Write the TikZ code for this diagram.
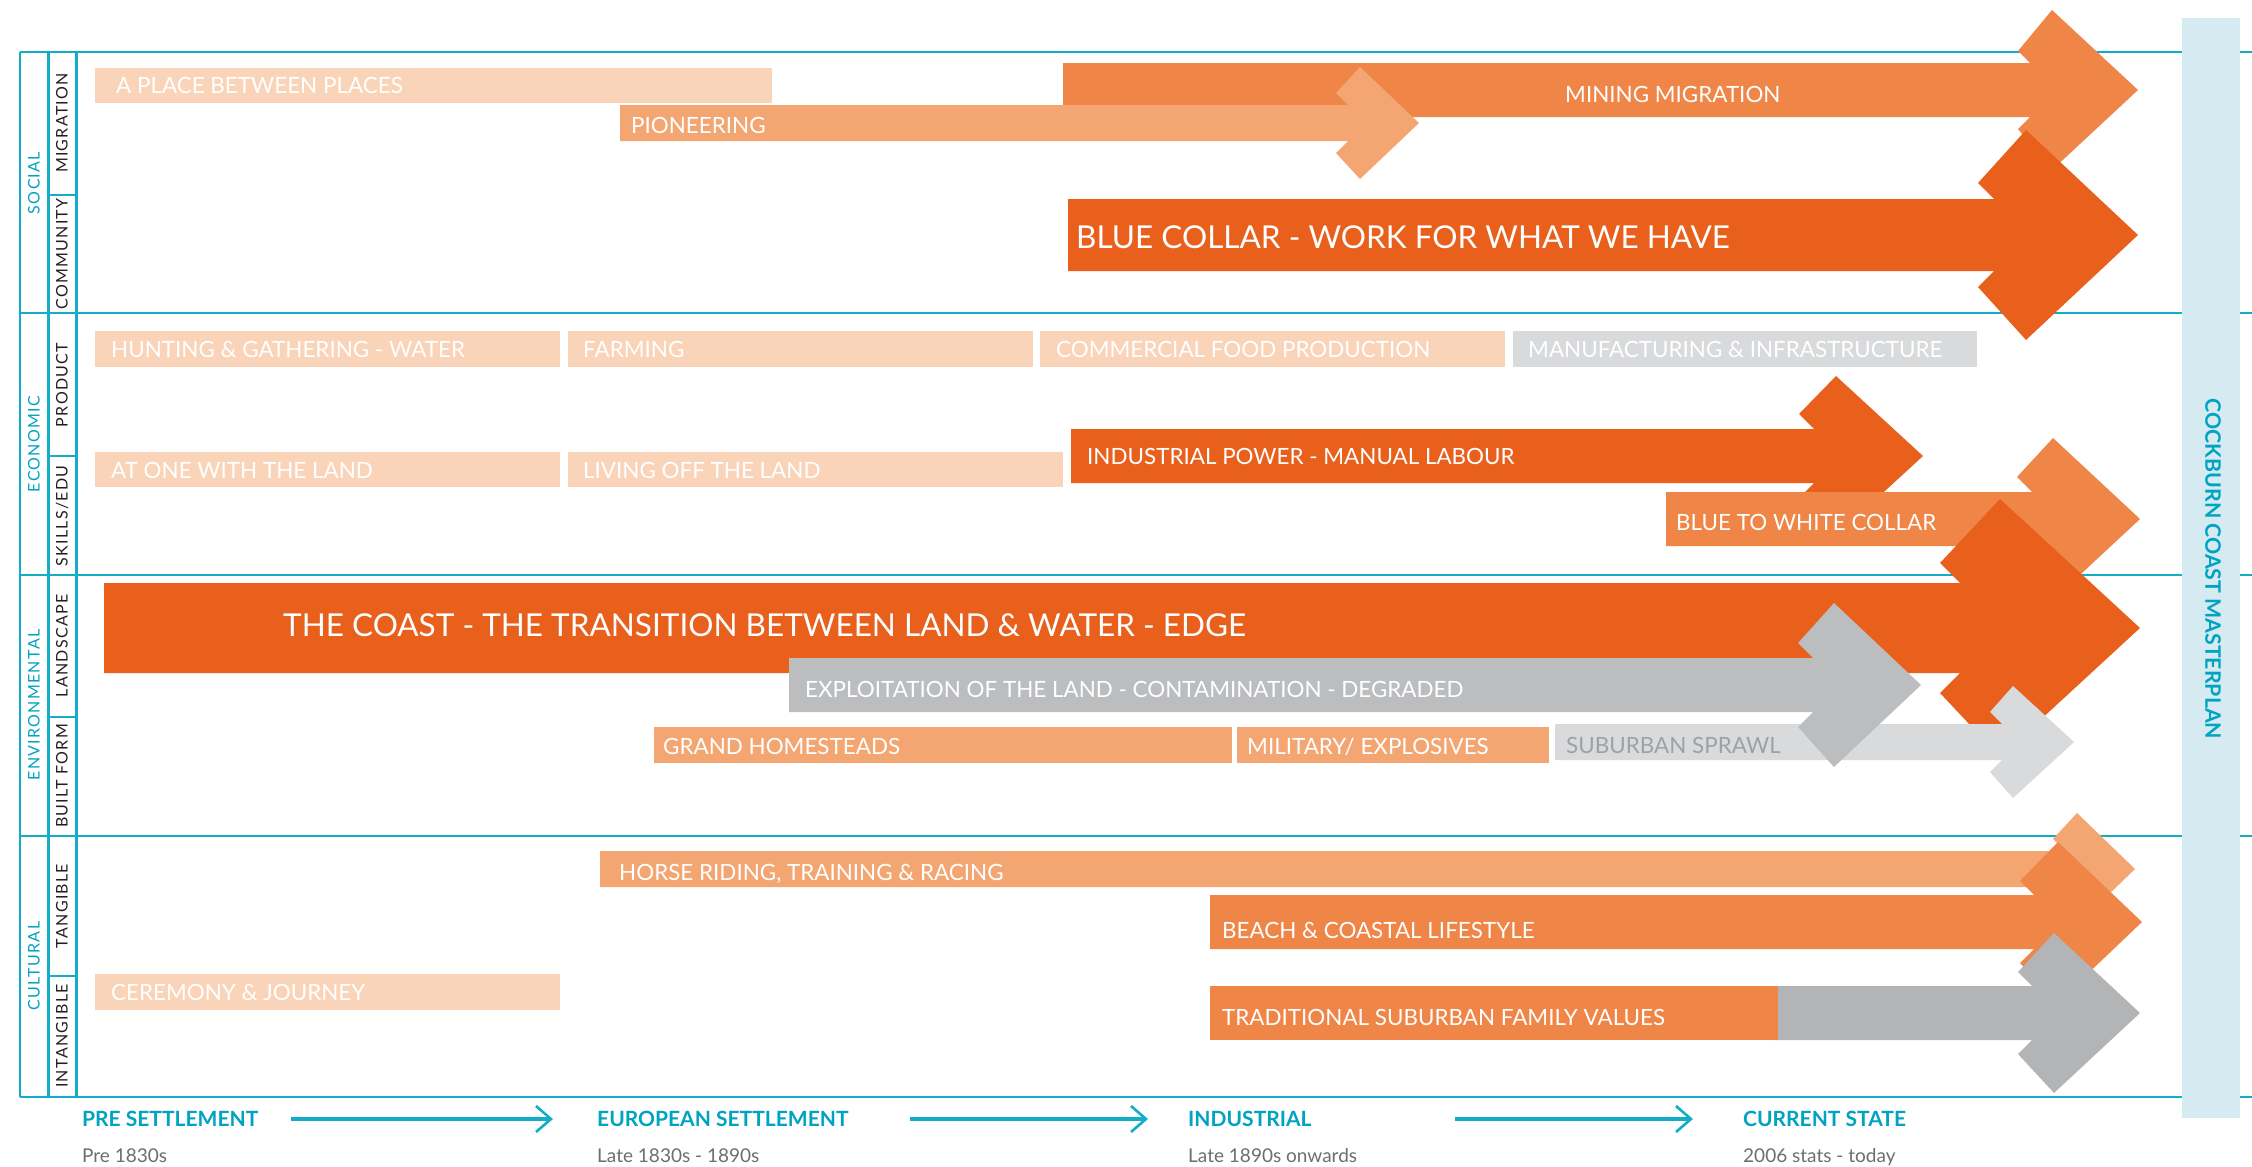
\documentclass[tikz,border=0pt]{standalone}
\usepackage{fontspec}
\setmainfont{Lato}
\newfontfamily\spacedfont[LetterSpace=8]{Lato}
\definecolor{peach}{HTML}{FAD4B8}
\definecolor{lorange}{HTML}{F4A672}
\definecolor{morange}{HTML}{EF8546}
\definecolor{dorange}{HTML}{E8601C}
\definecolor{greyA}{HTML}{BCBDBF}
\definecolor{greyB}{HTML}{B3B4B6}
\definecolor{lgrey}{HTML}{D9DADC}
\definecolor{teal}{HTML}{14ADC8}
\definecolor{tealtxt}{HTML}{00A3C2}
\definecolor{barblue}{HTML}{D5EBF1}
\definecolor{sprawltxt}{HTML}{A0A1A4}
\definecolor{smalltxt}{HTML}{6D6E70}
\definecolor{labtxt}{HTML}{231F20}
% #1 colour, #2 x0, #3 yc, #4 half shaft, #5 shaft end, #6 barb cut, #7 apex x, #8 tip x, #9 head half
\newcommand{\harr}[9]{\fill[#1] (#2,{#3-#4}) -- (#5,{#3-#4}) -- ({#5-#6},{#3-#4-#6}) -- (#7,{#3-#9}) -- (#8,#3) -- (#7,{#3+#9}) -- ({#5-#6},{#3+#4+#6}) -- (#5,{#3+#4}) -- (#2,{#3+#4}) -- cycle;}
\begin{document}
\begin{tikzpicture}[x=1pt,y=-1pt,
  gridline/.style={draw=teal,line width=2.6pt},
  lbl/.style={text=white,inner sep=0pt,anchor=base west,font=\fontsize{22.4}{26}\selectfont},
  biglbl/.style={text=white,inner sep=0pt,anchor=base west,font=\fontsize{31.5}{36}\selectfont},
  catlbl/.style={text=tealtxt,inner sep=0pt,rotate=90,font=\spacedfont\fontsize{16}{20}\selectfont},
  sublbl/.style={text=labtxt,inner sep=0pt,rotate=90,font=\spacedfont\fontsize{16}{20}\selectfont},
  stage/.style={text=tealtxt,inner sep=0pt,anchor=base west,font=\bfseries\fontsize{21}{25}\selectfont},
  when/.style={text=smalltxt,inner sep=0pt,anchor=base west,font=\fontsize{19}{23}\selectfont},
  tline/.style={draw=teal,line width=4.5pt},
  thead/.style={draw=teal,line width=2.6pt}]
\useasboundingbox (0,0) rectangle (2252,1167);
\fill[white] (0,0) rectangle (2252,1167);

% grid
\foreach \yy in {52,313,575,836,1097} \draw[gridline] (20,\yy) -- (2252,\yy);
\foreach \xx in {20,48.5,76.5} \draw[gridline] (\xx,52) -- (\xx,1097);
\foreach \yy in {195,456,717,976} \draw[gridline] (48.5,\yy) -- (76.5,\yy);

% category labels
\node[catlbl] (csoc) at (34,183) {SOCIAL};
\node[catlbl] (ceco) at (34,444) {ECONOMIC};
\node[catlbl] (cenv) at (34,705) {ENVIRONMENTAL};
\node[catlbl] (ccul) at (34,966) {CULTURAL};
\node[sublbl] (smig) at (62,123) {MIGRATION};
\node[sublbl] (scom) at (62,254) {COMMUNITY};
\node[sublbl] (spro) at (62,385) {PRODUCT};
\node[sublbl] (sski) at (62,516) {SKILLS/EDU};
\node[sublbl] (slan) at (62,646) {LANDSCAPE};
\node[sublbl] (sbui) at (62,776) {BUILT FORM};
\node[sublbl] (stan) at (62,906) {TANGIBLE};
\node[sublbl] (sint) at (62,1036) {INTANGIBLE};

% SOCIAL
\fill[peach] (95,68) rectangle (772,103);
\node[lbl] (tplace) at (116,93) {A PLACE BETWEEN PLACES};
\harr{morange}{1063}{90}{27}{2030}{12}{2052}{2138}{80}
\harr{lorange}{620}{123}{18}{1348}{12}{1360}{1419}{56}
\node[lbl] (tpion) at (631,133) {PIONEERING};
\node[lbl] (tmin) at (1565,102) {MINING MIGRATION};
\harr{dorange}{1068}{235}{36}{1994}{16}{2026}{2138}{105}
\node[biglbl] (tblue) at (1076,248) {BLUE COLLAR - WORK FOR WHAT WE HAVE};

% ECONOMIC
\fill[peach] (95,331) rectangle (560,367);
\fill[peach] (568,331) rectangle (1033,367);
\fill[peach] (1040,331) rectangle (1505,367);
\fill[lgrey] (1513,331) rectangle (1977,367);
\node[lbl] (thunt) at (111,357) {HUNTING \& GATHERING - WATER};
\node[lbl] (tfarm) at (583,357) {FARMING};
\node[lbl] (tcomm) at (1056,357) {COMMERCIAL FOOD PRODUCTION};
\node[lbl] (tmanu) at (1528,357) {MANUFACTURING \& INFRASTRUCTURE};
\fill[peach] (95,452) rectangle (560,487);
\fill[peach] (568,452) rectangle (1063,487);
\node[lbl] (tone) at (111,478) {AT ONE WITH THE LAND};
\node[lbl] (tliv) at (583,478) {LIVING OFF THE LAND};
\harr{dorange}{1071}{456}{27}{1814}{15}{1836}{1923}{80}
\node[lbl] (tind) at (1087,464) {INDUSTRIAL POWER - MANUAL LABOUR};
\harr{morange}{1666}{519}{27}{2032}{15}{2053}{2140}{81}
\node[lbl] (tbtw) at (1676,530) {BLUE TO WHITE COLLAR};

% ENVIRONMENTAL
\harr{dorange}{104}{628}{45}{1960}{20}{2000}{2140}{129}
\node[biglbl] (tcoast) at (283,636) {THE COAST - THE TRANSITION BETWEEN LAND \& WATER - EDGE};
\harr{lgrey}{1555}{742}{18}{2002}{12}{2013}{2074}{56}
\node[lbl,text=sprawltxt] (tspr) at (1566,753) {SUBURBAN SPRAWL};
\harr{greyA}{789}{685}{27}{1813}{15}{1834}{1921}{82}
\node[lbl] (texp) at (805,697) {EXPLOITATION OF THE LAND - CONTAMINATION - DEGRADED};
\fill[lorange] (654,727) rectangle (1232,763);
\fill[lorange] (1237,727) rectangle (1549,763);
\node[lbl] (tgrand) at (663,754) {GRAND HOMESTEADS};
\node[lbl] (tmil) at (1247,754) {MILITARY/ EXPLOSIVES};

% CULTURAL
\harr{lorange}{600}{869}{18}{2065}{12}{2077}{2135}{56}
\node[lbl] (thorse) at (619,880) {HORSE RIDING, TRAINING \& RACING};
\harr{morange}{1210}{922}{27}{2034}{14}{2058}{2142}{80}
\node[lbl] (tbeach) at (1222,938) {BEACH \& COASTAL LIFESTYLE};
\harr{greyB}{1775}{1013}{27}{2032}{14}{2054}{2140}{80}
\fill[morange] (1210,986) rectangle (1778,1040);
\node[lbl] (ttrad) at (1222,1025) {TRADITIONAL SUBURBAN FAMILY VALUES};
\fill[peach] (95,974) rectangle (560,1010);
\node[lbl] (tcer) at (111,1000) {CEREMONY \& JOURNEY};

% right bar
\fill[barblue] (2182,18) rectangle (2240,1118);
\node[text=tealtxt,inner sep=0pt,rotate=-90,font=\bfseries\fontsize{21.3}{25}\selectfont] (tmaster) at (2213,569) {COCKBURN COAST MASTERPLAN};

% timeline
\node[stage] (spre) at (82,1126) {PRE SETTLEMENT};
\node[when] (wpre) at (82,1162) {Pre 1830s};
\node[stage] (seur) at (597,1126) {EUROPEAN SETTLEMENT};
\node[when] (weur) at (597,1162) {Late 1830s - 1890s};
\node[stage] (sind) at (1188,1126) {INDUSTRIAL};
\node[when] (wind) at (1188,1162) {Late 1890s onwards};
\node[stage] (scur) at (1743,1126) {CURRENT STATE};
\node[when] (wcur) at (1743,1162) {2006 stats - today};
\coordinate (a1s) at (291,1119); \coordinate (a1e) at (551,1119);
\coordinate (a2s) at (910,1119); \coordinate (a2e) at (1146,1119);
\coordinate (a3s) at (1455,1119); \coordinate (a3e) at (1691,1119);
\foreach \s/\e in {a1s/a1e,a2s/a2e,a3s/a3e}{
  \draw[tline] (\s) -- ([xshift=-2pt]\e);
  \draw[thead] ([shift={(-15pt,13pt)}]\e) -- (\e) -- ([shift={(-15pt,-13pt)}]\e);
}
\end{tikzpicture}
\end{document}
